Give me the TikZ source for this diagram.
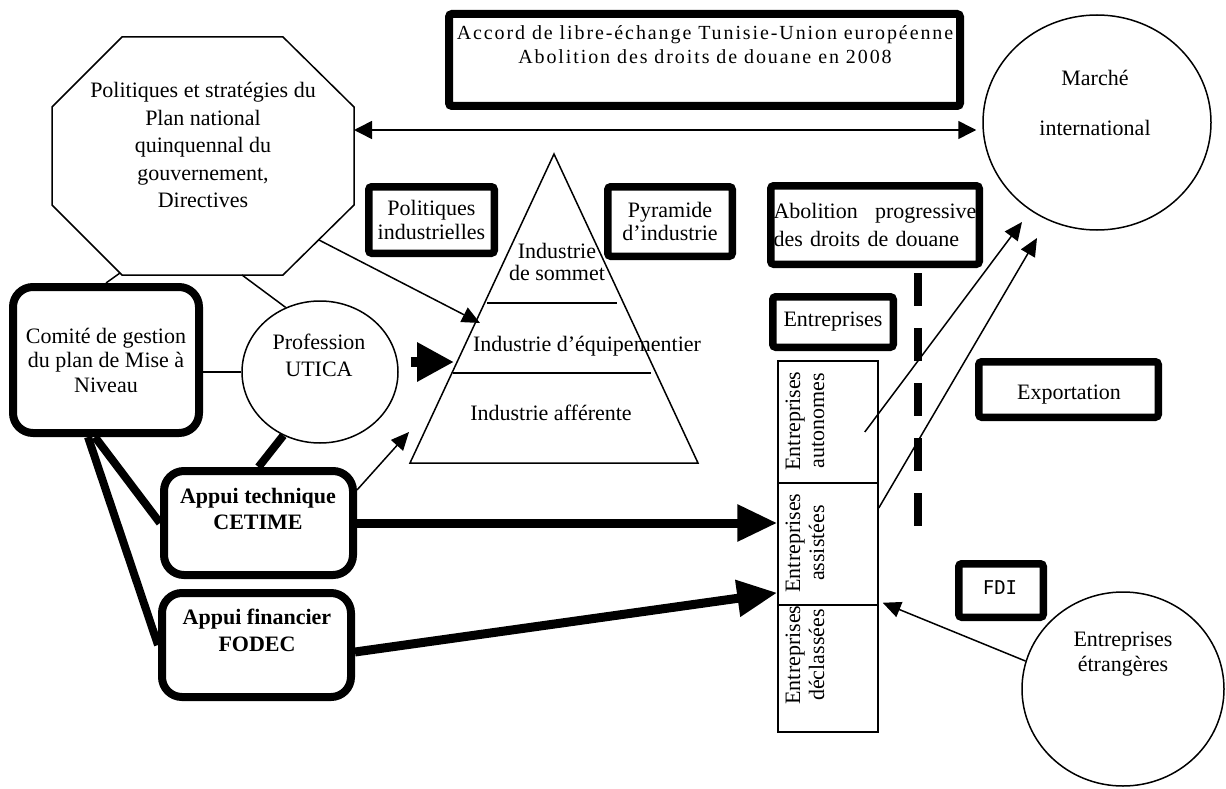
\documentclass[tikz,border=0pt]{standalone}
\usepackage{fontspec}
\setmainfont{Liberation Serif}
\newfontfamily\fdifont{DejaVu Sans Mono}
\usetikzlibrary{arrows.meta,shapes.geometric}
\newcommand\bodyfont{\fontsize{22}{24}\selectfont}
\begin{document}
\begin{tikzpicture}[x=1pt,y=-1pt,
  fine/.style={line width=1.5pt},
  heavybox/.style={draw, line width=7.5pt, rounded corners=3pt, inner sep=0pt,
    align=center, font=\bodyfont, fill=white},
  softbox/.style={draw, line width=8pt, rounded corners=20pt, inner sep=0pt, fill=white},
  oval/.style={draw, ellipse, line width=1.5pt, inner sep=0pt},
  cell/.style={draw, rectangle, line width=1.5pt, minimum width=100pt, inner sep=0pt},
  lbl/.style={align=center, font=\bodyfont, inner sep=0pt},
  arr/.style={line width=1.5pt, -{Triangle[length=18pt,width=16pt]}},
  bigarr/.style={line width=9pt, -{Triangle[length=40pt,width=35pt]}},
  stub/.style={line width=10pt, -{Triangle[length=37pt,width=37pt]}},
  heavyline/.style={line width=8pt},
]
\useasboundingbox (0,0) rectangle (1226,789);

% ---- free-trade agreement banner
\node[heavybox, line width=8pt, minimum width=511pt, minimum height=92pt] (accord) at (704.5,60) {};
\node[lbl, font=\fontsize{20}{24}\selectfont\addfontfeatures{LetterSpace=9.5}] (accordtxt) at (705,45)
  {Accord de libre-échange Tunisie-Union européenne\\Abolition des droits de douane en 2008};

% ---- government plan (octagon)
\draw[fine] (122,37) -- (283,37) -- (354,107) -- (354,205) -- (283,275) -- (122,275)
  -- (52,205) -- (52,107) -- cycle;
\node[lbl, font=\fontsize{22}{27.5}\selectfont] (oct) at (203,145)
  {Politiques et stratégies du\\Plan national\\quinquennal du\\gouvernement,\\Directives};
\coordinate (octE) at (354,130);
\coordinate (octA) at (120,273);
\coordinate (octB) at (242,275);
\coordinate (octC) at (319,240);

% ---- international market
\node[oval, minimum width=228pt, minimum height=215pt] (marche) at (1097,122.5) {};
\node[lbl, font=\fontsize{22}{50}\selectfont] (marchetxt) at (1095,103) {Marché\\international};

% ---- labels over the pyramid
\node[heavybox, font=\fontsize{22}{23.5}\selectfont, minimum width=125.5pt, minimum height=66.5pt] (polind) at (431.5,220)
  {Politiques\\industrielles};
\node[heavybox, font=\fontsize{22}{23.5}\selectfont, minimum width=124.5pt, minimum height=69.5pt] (pyrlbl) at (670,221.5)
  {Pyramide\\d’industrie};
\node[heavybox, font=\fontsize{22}{28}\selectfont, align=left, text width=203pt,
  minimum width=208.5pt, minimum height=78.5pt] (abol) at (875,225)
  {Abolition\hfill progressive\\des droits de douane};

% ---- industry pyramid
\coordinate (apex) at (554,154);
\coordinate (bl) at (410,463);
\coordinate (br) at (698,463);
\draw[fine] (apex) -- (bl) -- (br) -- cycle;
\draw[fine] (487,303) -- (617,303);
\draw[fine] (453,373) -- (651,373);
\node[lbl, font=\fontsize{22}{22}\selectfont] (sommet) at (557,262) {Industrie\\de sommet};
\node[lbl] (equip) at (587,346) {Industrie d’équipementier};
\node[lbl] (affer) at (551,413) {Industrie afférente};
\coordinate (pyrA) at (480,323);
\coordinate (pyrB) at (454,362);
\coordinate (pyrC) at (409,432);

% ---- left-hand actors
\node[softbox, minimum width=186pt, minimum height=146pt, align=center,
  font=\fontsize{22}{24.5}\selectfont] (comite) at (106,360)
  {Comité de gestion\\du plan de Mise à\\Niveau};
\node[oval, minimum width=156pt, minimum height=142pt] (utica) at (320,372) {};
\node[lbl, font=\fontsize{22}{27}\selectfont] (uticatxt) at (319,355.5) {Profession\\UTICA};
\node[softbox, minimum width=189pt, minimum height=104pt] (cetime) at (258.5,523) {};
\node[lbl, font=\fontsize{22}{26}\selectfont\bfseries] (cetimetxt) at (258,509) {Appui technique\\CETIME};
\node[softbox, minimum width=189pt, minimum height=104pt] (fodec) at (256.5,645) {};
\node[lbl, font=\fontsize{22}{27}\selectfont\bfseries] (fodectxt) at (257,630.5) {Appui financier\\FODEC};

% ---- enterprises
\node[heavybox, minimum width=120.5pt, minimum height=50.5pt] (entr) at (833,322) {Entreprises};
\node[cell, minimum height=122pt] (auto) at (828,422) {};
\node[cell, minimum height=122pt] (assist) at (828,544) {};
\node[cell, minimum height=127pt] (declass) at (828,668.5) {};
\node[lbl, rotate=90] (autotxt) at (805,421) {Entreprises\\autonomes};
\node[lbl, rotate=90] (assisttxt) at (805,543) {Entreprises\\assistées};
\node[lbl, rotate=90] (decltxt) at (805,655) {Entreprises\\déclassées};

% ---- export side
\node[heavybox, minimum width=179.5pt, minimum height=55.5pt] (export) at (1068.5,389.5) {};
\node[lbl] (exporttxt) at (1069,395) {Exportation};
\node[heavybox, minimum width=84.5pt, minimum height=53.5pt] (fdi) at (1001,590.5) {};
\node[lbl, font=\fontsize{19}{22}\fdifont] (fditxt) at (1000,588) {FDI};
\node[oval, minimum width=202pt, minimum height=194pt] (etr) at (1123,689) {};
\node[lbl, font=\fontsize{22}{25}\selectfont] (etrtxt) at (1123,654.5) {Entreprises\\étrangères};
\coordinate (m1) at (1022,222);
\coordinate (m2) at (1037,238);

% ---- customs boundary
\draw[line width=8.5pt, dash pattern=on 33pt off 22pt] (918,273) -- (918,526);

% ---- connectors
\draw[fine, {Triangle[length=18pt,width=18pt]}-{Triangle[length=18pt,width=18pt]}, shorten >=6pt]
  (octE) -- (octE -| marche.west);
\draw[arr] (octC) -- (pyrA);
\draw[fine] (octA) -- (comite.north);
\draw[fine] (octB) -- (utica.118);
\draw[fine] (utica.west) -- (utica.west -| comite.east);
\draw[heavyline] (utica.240) -- (cetime.north);
\draw[stub] ([shift={(12,-10)}]utica.east) -- (pyrB);
\draw[arr] ([shift={(0,-33)}]cetime.east) -- (pyrC);
\draw[heavyline] ([xshift=-11pt]comite.south) -- (cetime.west);
\draw[heavyline] ([xshift=-18pt]comite.south) -- (fodec.west);
\draw[bigarr] (cetime.east) -- (cetime.east -| assist.west);
\draw[bigarr] ([yshift=-7pt]fodec.east) -- ([shift={(0,-13)}]assist.south west);
\draw[arr] ([shift={(-14,10)}]auto.east) -- (m1);
\draw[arr] ([shift={(0,-36)}]assist.east) -- (m2);
\draw[arr] (etr.164) -- ([shift={(4,-3)}]assist.south east);
\end{tikzpicture}
\end{document}
